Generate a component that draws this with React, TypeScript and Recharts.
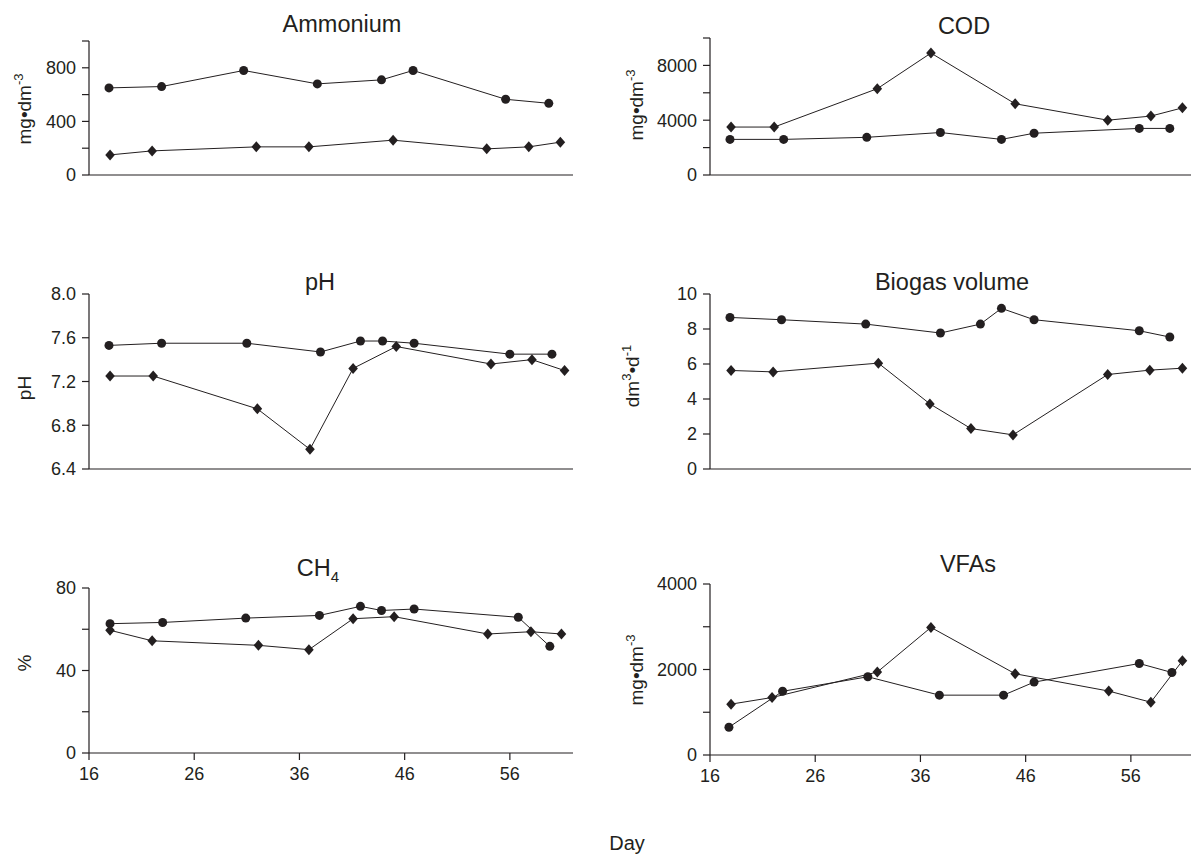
import * as React from "react";
import { LineChart, Line, XAxis, YAxis } from "recharts";

// day / value pairs
const ammoniumCircleDays = [17.9, 22.9, 30.7, 37.7, 43.8, 46.8, 55.6, 59.7];
const ammoniumCircle = [650, 660, 780, 680, 710, 780, 565, 535];
const ammoniumDiamondDays = [18.0, 22.0, 31.9, 36.9, 44.9, 53.8, 57.8, 60.8];
const ammoniumDiamond = [150, 180, 210, 210, 260, 195, 210, 245];

const codCircleDays = [17.9, 23.0, 30.9, 37.9, 43.7, 46.8, 56.8, 59.7];
const codCircle = [2600, 2600, 2750, 3100, 2600, 3050, 3400, 3400];
const codDiamondDays = [18.0, 22.1, 31.9, 37.0, 45.0, 53.8, 57.9, 60.9];
const codDiamond = [3500, 3500, 6300, 8900, 5200, 4000, 4300, 4900];

const phCircleDays = [17.9, 22.9, 31.0, 38.0, 41.8, 43.9, 46.9, 56.0, 60.0];
const phCircle = [7.53, 7.55, 7.55, 7.47, 7.57, 7.57, 7.55, 7.45, 7.45];
const phDiamondDays = [18.0, 22.1, 32.0, 37.0, 41.1, 45.2, 54.2, 58.1, 61.2];
const phDiamond = [7.25, 7.25, 6.95, 6.58, 7.32, 7.52, 7.36, 7.4, 7.3];

const biogasCircleDays = [17.9, 22.8, 30.8, 37.9, 41.7, 43.7, 46.8, 56.8, 59.7];
const biogasCircle = [8.66, 8.53, 8.28, 7.77, 8.28, 9.18, 8.53, 7.9, 7.54];
const biogasDiamondDays = [18.0, 22.0, 32.0, 36.9, 40.8, 44.8, 53.8, 57.8, 60.9];
const biogasDiamond = [5.63, 5.55, 6.05, 3.72, 2.31, 1.95, 5.4, 5.65, 5.76];

const ch4CircleDays = [18.0, 23.0, 30.9, 37.9, 41.8, 43.8, 46.9, 56.8, 59.8];
const ch4Circle = [62.7, 63.3, 65.4, 66.7, 71.1, 69.1, 69.8, 65.8, 51.7];
const ch4DiamondDays = [18.0, 22.0, 32.1, 36.9, 41.1, 45.0, 53.9, 58.0, 60.9];
const ch4Diamond = [59.5, 54.4, 52.2, 50.1, 65.1, 66.1, 57.7, 58.8, 57.7];

const vfaCircleDays = [17.8, 22.9, 31.0, 37.8, 43.9, 46.8, 56.8, 59.9];
const vfaCircle = [650, 1490, 1830, 1400, 1400, 1705, 2140, 1930];
const vfaDiamondDays = [18.0, 21.9, 31.9, 37.0, 45.0, 53.9, 57.9, 60.9];
const vfaDiamond = [1190, 1345, 1940, 2985, 1900, 1495, 1235, 2205];

const dayTicks = [16, 26, 36, 46, 56];

const ink = "#231f20";
const font = "'Liberation Sans', Arial, Helvetica, sans-serif";

const toPoints = (days: number[], vals: number[]) =>
  days.map((d, i) => ({ day: d, v: vals[i] }));

const CircleDot = (p: any) => (
  <circle key={p.key ?? p.index} cx={p.cx} cy={p.cy} r={4.5} fill={ink} />
);

const DiamondDot = (p: any) => (
  <path
    key={p.key ?? p.index}
    d={`M${p.cx},${p.cy - 5.5} L${p.cx + 4.8},${p.cy} L${p.cx},${p.cy + 5.5} L${p.cx - 4.8},${p.cy} Z`}
    fill={ink}
  />
);

interface PanelProps {
  plotLeft: number;
  plotTop: number;
  plotBottom: number;
  yDomain: [number, number];
  yTicks: number[];
  yLabels: number[];
  decimals?: number;
  showX?: boolean;
  circles: { day: number; v: number }[];
  diamonds: { day: number; v: number }[];
}

function Panel({
  plotLeft,
  plotTop,
  plotBottom,
  yDomain,
  yTicks,
  yLabels,
  decimals = 0,
  showX = false,
  circles,
  diamonds,
}: PanelProps) {
  const plotWidth = 484;
  const yw = 74;
  const top = 20;
  const xh = 40;
  const h = top + (plotBottom - plotTop) + xh;
  const tickStyle = { fontSize: 18, fill: ink, fontFamily: font };
  return (
    <div style={{ position: "absolute", left: plotLeft - yw, top: plotTop - top }}>
      <LineChart
        width={yw + plotWidth}
        height={h}
        margin={{ top, right: 0, bottom: 0, left: 0 }}
      >
        <XAxis
          type="number"
          dataKey="day"
          domain={[16, 62]}
          ticks={dayTicks}
          interval={0}
          allowDataOverflow
          height={xh}
          tickSize={7}
          tickMargin={7}
          stroke={ink}
          strokeWidth={1.2}
          tick={showX ? tickStyle : false}
        />
        <YAxis
          type="number"
          domain={yDomain}
          ticks={yTicks}
          interval={0}
          allowDataOverflow
          width={yw}
          tickSize={7}
          tickMargin={6}
          stroke={ink}
          strokeWidth={1.2}
          tick={tickStyle}
          tickFormatter={(t: number) =>
            yLabels.some((l) => Math.abs(l - t) < 1e-6) ? t.toFixed(decimals) : ""
          }
        />
        <Line
          data={circles}
          dataKey="v"
          stroke={ink}
          strokeWidth={1}
          dot={CircleDot}
          activeDot={false}
          isAnimationActive={false}
        />
        <Line
          data={diamonds}
          dataKey="v"
          stroke={ink}
          strokeWidth={1}
          dot={DiamondDot}
          activeDot={false}
          isAnimationActive={false}
        />
      </LineChart>
    </div>
  );
}

const textBase: React.CSSProperties = {
  position: "absolute",
  color: ink,
  fontFamily: font,
  whiteSpace: "nowrap",
  lineHeight: 1,
};

function Title({ x, y, children }: { x: number; y: number; children: React.ReactNode }) {
  return (
    <div style={{ ...textBase, left: x, top: y, fontSize: 23.5, transform: "translate(-50%, -50%)" }}>
      {children}
    </div>
  );
}

function YLabel({ x, y, children }: { x: number; y: number; children: React.ReactNode }) {
  return (
    <div
      style={{
        ...textBase,
        left: x,
        top: y,
        fontSize: 19,
        transform: "translate(-50%, -50%) rotate(-90deg)",
      }}
    >
      {children}
    </div>
  );
}

const sup: React.CSSProperties = { fontSize: 13, verticalAlign: "super", lineHeight: 0 };
const sub: React.CSSProperties = { fontSize: 15, verticalAlign: "sub", lineHeight: 0 };

const MgDm = () => (
  <span>
    mg•dm<span style={sup}>-3</span>
  </span>
);

export default function App() {
  const L = 88.8;
  const R = 710;
  return (
    <div
      style={{
        position: "fixed",
        left: 0,
        top: 0,
        width: 1191,
        height: 854,
        overflow: "hidden",
        background: "#fff",
      }}
    >
      <Panel
        plotLeft={L}
        plotTop={41}
        plotBottom={175}
        yDomain={[0, 1000]}
        yTicks={[0, 200, 400, 600, 800, 1000]}
        yLabels={[0, 400, 800]}
        circles={toPoints(ammoniumCircleDays, ammoniumCircle)}
        diamonds={toPoints(ammoniumDiamondDays, ammoniumDiamond)}
      />
      <Panel
        plotLeft={R}
        plotTop={38}
        plotBottom={175}
        yDomain={[0, 10000]}
        yTicks={[0, 2000, 4000, 6000, 8000, 10000]}
        yLabels={[0, 4000, 8000]}
        circles={toPoints(codCircleDays, codCircle)}
        diamonds={toPoints(codDiamondDays, codDiamond)}
      />
      <Panel
        plotLeft={L}
        plotTop={294}
        plotBottom={469}
        yDomain={[6.4, 8.0]}
        yTicks={[6.4, 6.8, 7.2, 7.6, 8.0]}
        yLabels={[6.4, 6.8, 7.2, 7.6, 8.0]}
        decimals={1}
        circles={toPoints(phCircleDays, phCircle)}
        diamonds={toPoints(phDiamondDays, phDiamond)}
      />
      <Panel
        plotLeft={R}
        plotTop={294}
        plotBottom={469}
        yDomain={[0, 10]}
        yTicks={[0, 2, 4, 6, 8, 10]}
        yLabels={[0, 2, 4, 6, 8, 10]}
        circles={toPoints(biogasCircleDays, biogasCircle)}
        diamonds={toPoints(biogasDiamondDays, biogasDiamond)}
      />
      <Panel
        plotLeft={L}
        plotTop={588}
        plotBottom={753}
        yDomain={[0, 80]}
        yTicks={[0, 20, 40, 60, 80]}
        yLabels={[0, 40, 80]}
        showX
        circles={toPoints(ch4CircleDays, ch4Circle)}
        diamonds={toPoints(ch4DiamondDays, ch4Diamond)}
      />
      <Panel
        plotLeft={R}
        plotTop={584}
        plotBottom={755}
        yDomain={[0, 4000]}
        yTicks={[0, 1000, 2000, 3000, 4000]}
        yLabels={[0, 2000, 4000]}
        showX
        circles={toPoints(vfaCircleDays, vfaCircle)}
        diamonds={toPoints(vfaDiamondDays, vfaDiamond)}
      />

      <Title x={342} y={25}>Ammonium</Title>
      <Title x={964} y={27}>COD</Title>
      <Title x={320} y={283}>pH</Title>
      <Title x={952} y={283}>Biogas volume</Title>
      <Title x={318} y={569}>
        CH<span style={sub}>4</span>
      </Title>
      <Title x={968} y={565}>VFAs</Title>

      <YLabel x={24} y={109}><MgDm /></YLabel>
      <YLabel x={636} y={105}><MgDm /></YLabel>
      <YLabel x={24} y={388}>pH</YLabel>
      <YLabel x={632} y={376}>
        <span>
          dm<span style={sup}>3</span>•d<span style={sup}>-1</span>
        </span>
      </YLabel>
      <YLabel x={24} y={663}>%</YLabel>
      <YLabel x={636} y={670}><MgDm /></YLabel>

      <div style={{ ...textBase, left: 627, top: 843, fontSize: 20, transform: "translate(-50%, -50%)" }}>
        Day
      </div>
    </div>
  );
}
